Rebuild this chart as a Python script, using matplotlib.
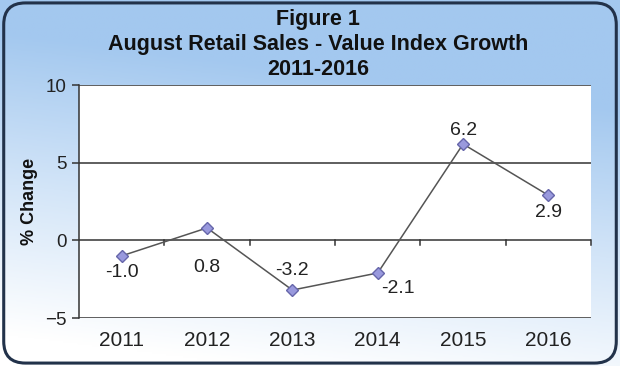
import numpy as np
import matplotlib
matplotlib.use("Agg")
import matplotlib.pyplot as plt
from matplotlib.patches import FancyBboxPatch
from matplotlib.colors import LinearSegmentedColormap

years = ["2011", "2012", "2013", "2014", "2015", "2016"]
growth = [-1.0, 0.8, -3.2, -2.1, 6.2, 2.9]
# label offsets in pixels (dx, dy) relative to each point
label_dx = [0, 0, 0, 20, 0, 0]
label_dy = [-17, -40, 20, -16, 14, -17]

plt.rcParams["font.family"] = ["Liberation Sans", "DejaVu Sans"]

fig = plt.figure(figsize=(6.2, 3.66), dpi=100)
fig.patch.set_facecolor("white")

# gradient background
bg = fig.add_axes([0, 0, 1, 1], zorder=0)
bg.set_axis_off()
yy, xx = np.mgrid[0:1:200j, 0:1:300j]
t = np.clip(1.2 * yy - 0.25 * xx - 0.1, 0, 1)
cmap = LinearSegmentedColormap.from_list("bgc", ["#a3c8ef", "#d3e5f8", "#ffffff"])
bg.imshow(t, cmap=cmap, extent=[0, 1, 0, 1], aspect="auto", origin="upper")
bg.set_xlim(0, 1)
bg.set_ylim(0, 1)
box = FancyBboxPatch((0.006, 0.008), 0.988, 0.984,
                     boxstyle="round,pad=0,rounding_size=0.035",
                     transform=bg.transAxes, facecolor="none",
                     edgecolor="#22324a", linewidth=2.2, mutation_aspect=620 / 366)
bg.add_patch(box)
bg.add_patch(FancyBboxPatch((-0.05, -0.05), 1.1, 1.1, boxstyle="square,pad=0",
                            facecolor="none", edgecolor="white", linewidth=6,
                            transform=bg.transAxes))

title_lines = ["Figure 1", "August Retail Sales - Value Index Growth", "2011-2016"]
for yf, line in zip([0.947, 0.878, 0.809], title_lines):
    fig.text(0.513, yf, line, ha="center", va="center",
             fontsize=15.5, fontweight="bold", color="#111111")

ax = fig.add_axes([0.1274, 0.1311, 0.826, 0.6366], zorder=1)
ax.set_facecolor("white")
x = np.arange(len(years))
ax.set_xlim(-0.5, len(years) - 0.5)
ax.set_ylim(-5, 10)
ax.set_yticks([-5, 0, 5, 10])
for v in [-5, 0, 5, 10]:
    ax.axhline(v, color="#333333", linewidth=1.1, zorder=1)
for b in np.arange(0.5, len(years), 1.0):
    ax.plot([b, b], [0, -0.3], color="#333333", linewidth=1.1, zorder=1,
            clip_on=False)

ax.plot(x, growth, color="#555555", linewidth=1.1, marker="D", markersize=6.5,
        markerfacecolor="#9999dd", markeredgecolor="#6666aa", zorder=3)

for xi, v, dx, dy in zip(x, growth, label_dx, label_dy):
    ax.annotate(f"{v:.1f}", (xi, v), xytext=(dx, dy), textcoords="offset pixels",
                ha="center", va="center", fontsize=14, color="#222222", zorder=4)

ax.set_xticks(x)
ax.set_xticklabels(years)
ax.tick_params(axis="x", length=0, pad=9, labelsize=15, labelcolor="#222222")
ax.tick_params(axis="y", length=5, width=1.1, color="#333333", pad=4,
               labelsize=13.5, labelcolor="#222222")
for s in ["top", "right", "bottom"]:
    ax.spines[s].set_visible(False)
ax.spines["left"].set_color("#333333")
ax.spines["left"].set_linewidth(1.1)
ax.set_ylabel("% Change", fontsize=13, fontweight="bold", color="#111111",
              labelpad=5)

fig.savefig("out.png", dpi=100)
